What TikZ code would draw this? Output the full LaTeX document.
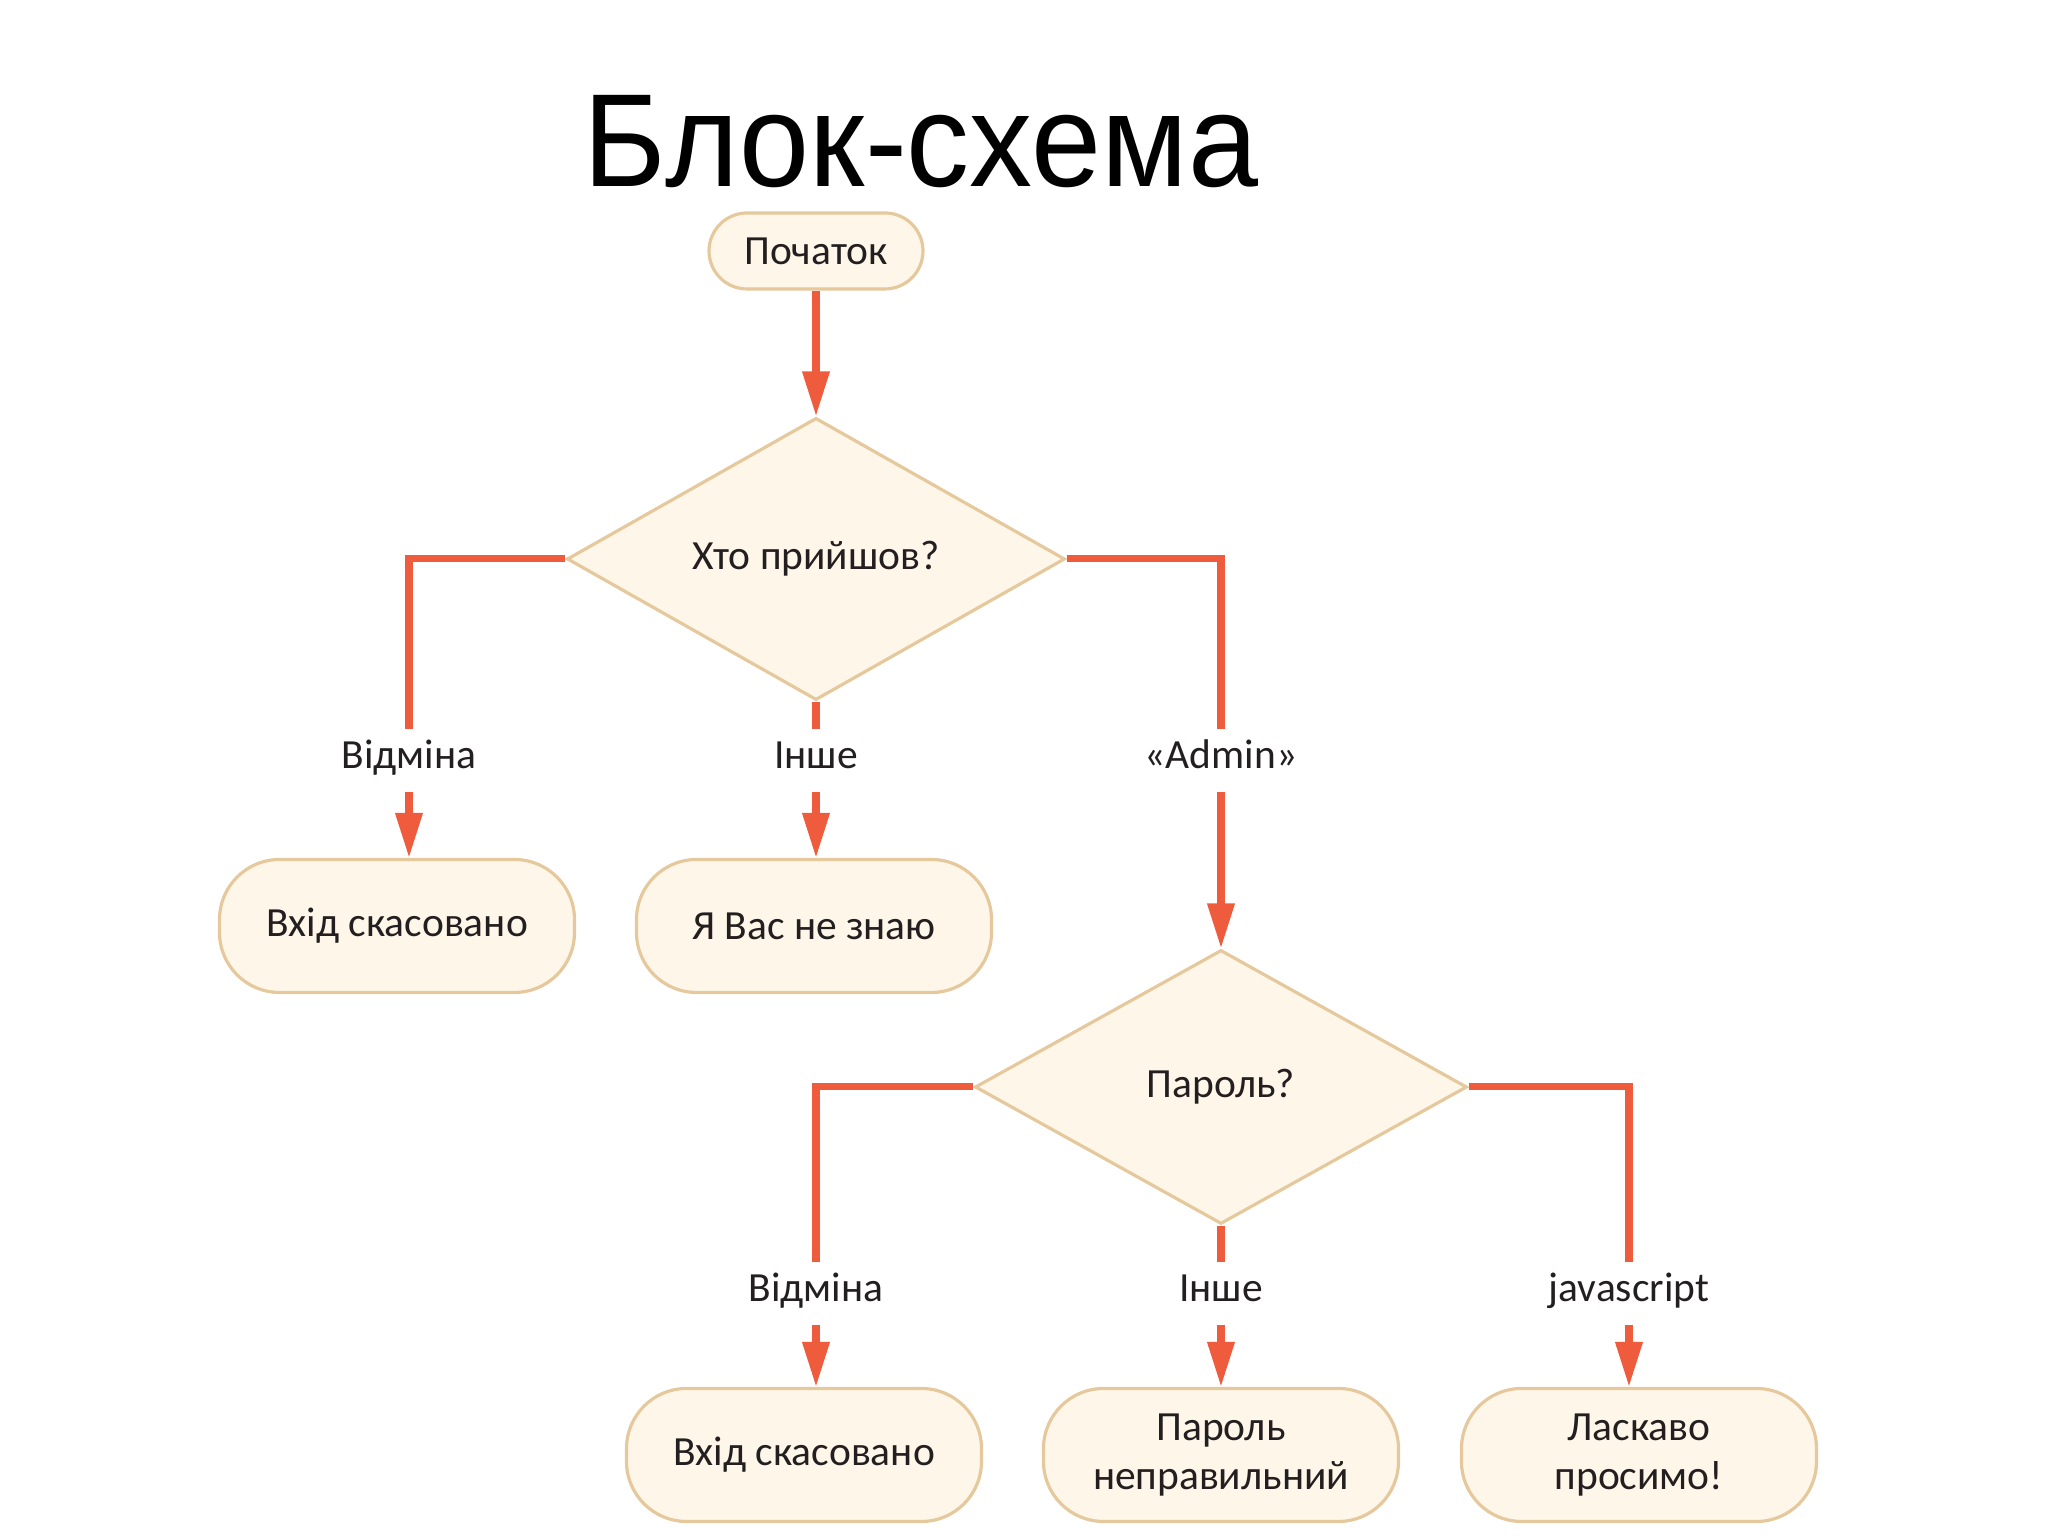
\documentclass[tikz,border=0pt]{standalone}
\usepackage{fontspec}
\usetikzlibrary{shapes.geometric, arrows.meta}
\setmainfont{Carlito}
\newfontfamily\titlefont[FakeStretch=0.95]{Liberation Sans}
\definecolor{boxfill}{HTML}{FEF6E8}
\definecolor{boxline}{HTML}{E5C89C}
\definecolor{flow}{HTML}{EE5B3D}
\definecolor{ink}{HTML}{231F20}

\begin{document}
\begin{tikzpicture}[
  every node/.style={text=ink, font=\fontsize{11.8}{13.7}\selectfont},
  term/.style={draw=boxline, fill=boxfill, line width=0.9pt, rounded corners=6mm,
    minimum width=3.55cm, minimum height=1.33cm, align=center},
  ask/.style={diamond, draw=boxline, fill=boxfill, line width=0.9pt, inner sep=0pt,
    minimum width=4.98cm, minimum height=2.74cm},
  choice/.style={anchor=base, text height=0.27cm, text depth=0.1cm,
    inner xsep=1mm, inner ysep=0.12cm},
  flowline/.style={draw=flow, line width=2pt},
  flowarrow/.style={flowline, -{Triangle[length=4.5mm, width=2.6mm]}}
]
\useasboundingbox (0,0) rectangle (20.48,15.36);
\node[font=\titlefont\fontsize{37.7}{40}\selectfont, text=black] (title) at (9.21,13.94) {Блок-схема};

\node[term, rounded corners=3.8mm, minimum width=2.14cm, minimum height=0.76cm] (start) at (8.16,12.85) {Початок};
\node[ask] (who) at (8.16,9.77) {Хто прийшов?};
\node[choice] (cancel1) at (4.09,7.67) {Відміна};
\node[choice] (other1) at (8.16,7.67) {Інше};
\node[choice] (admin) at (12.21,7.67) {«Admin»};
\node[term] (out1) at (3.97,6.10) {Вхід скасовано};
\node[term] (out2) at (8.14,6.10) {Я Вас не знаю};

\node[ask, minimum width=4.92cm] (pass) at (12.21,4.49) {Пароль?};
\node[choice] (cancel2) at (8.16,2.34) {Відміна};
\node[choice] (other2) at (12.21,2.34) {Інше};
\node[choice] (js) at (16.29,2.34) {javascript};
\node[term] (out3) at (8.04,0.81) {Вхід скасовано};
\node[term] (out4) at (12.21,0.81) {Пароль\\неправильний};
\node[term] (out5) at (16.39,0.81) {Ласкаво\\просимо!};

\draw[flowarrow] (start) -- (who);
\draw[flowline] (who.west) -| (cancel1.north);
\draw[flowline] (who.south) -- (other1.north);
\draw[flowline] (who.east) -| (admin.north);
\draw[flowarrow] (admin.south) -- (pass.north);
\draw[flowline] (pass.west) -| (cancel2.north);
\draw[flowline] (pass.south) -- (other2.north);
\draw[flowline] (pass.east) -| (js.north);
\foreach \l/\b in {cancel1/out1, other1/out2, cancel2/out3, other2/out4, js/out5}
  \draw[flowarrow] (\l.south) -- (\l.south |- \b.north);
\end{tikzpicture}
\end{document}
